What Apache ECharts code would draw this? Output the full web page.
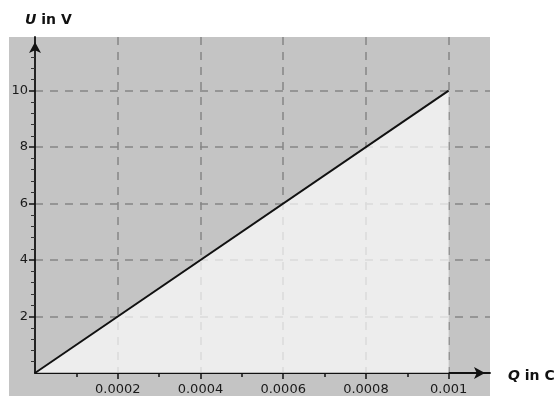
<!DOCTYPE html>
<html>
<head>
<meta charset="utf-8">
<script src="https://cdn.jsdelivr.net/npm/echarts@6/dist/echarts.min.js"></script>
<style>
  html, body { margin: 0; padding: 0; background: #ffffff; }
  #chart { width: 558px; height: 396px; }
</style>
</head>
<body>
<div id="chart"></div>
<script>
// Charge Q (C) and voltage U (V) across a capacitor: U grows linearly with Q
const chargeQ = [0, 0.001];
const voltageU = [0, 10];

// Axis ticks
const xMajorTicks = [0.0002, 0.0004, 0.0006, 0.0008, 0.001];
const xMinorTicks = [0.0001, 0.0003, 0.0005, 0.0007, 0.0009];
const yMajorTicks = [2, 4, 6, 8, 10];
const yMinorTicks = [0.4, 0.8, 1.2, 1.6, 2.4, 2.8, 3.2, 3.6, 4.4, 4.8, 5.2, 5.6,
                     6.4, 6.8, 7.2, 7.6, 8.4, 8.8, 9.2, 9.6, 10.4, 10.8, 11.2];
const xMax = 0.0011;
const yMax = 11.9;

const chart = echarts.init(document.getElementById('chart'), null, { renderer: 'canvas' });

const FONT = 'DejaVu Sans, Liberation Sans, Arial, sans-serif';
const labelFont = { fontFamily: FONT, fontSize: 13, color: '#1a1a1a' };
const axisColor = '#111111';
const gridDash = { color: '#858585', width: 1.5, type: [8, 7] };

function xFormat(v) {
  return xMajorTicks.some(t => Math.abs(t - v) < 1e-9) ? String(+v.toFixed(4)) : '';
}

const titleRich = { i: { fontStyle: 'italic', fontWeight: 'bold', fontSize: 14, fontFamily: FONT } };

chart.setOption({
  animation: false,
  backgroundColor: '#ffffff',
  graphic: [{
    type: 'rect',
    z: -10,
    shape: { x: 9, y: 37, width: 481, height: 359 },
    style: { fill: '#c4c4c4' }
  }, {
    type: 'text',
    left: 25,
    top: 13,
    style: { text: '{i|U} in V', font: 'bold 14px ' + FONT, fill: '#111', rich: titleRich }
  }, {
    type: 'text',
    left: 508,
    top: 369,
    style: { text: '{i|Q} in C', font: 'bold 14px ' + FONT, fill: '#111', rich: titleRich }
  }],
  grid: { left: 35, right: 68, top: 37, bottom: 20, containLabel: false },
  xAxis: [{
    type: 'value',
    position: 'bottom',
    min: 0,
    max: xMax,
    interval: 0.0002,
    axisLine: {
      show: true,
      symbol: ['none', 'arrow'],
      symbolSize: [9, 11],
      symbolOffset: [0, -5],
      lineStyle: { color: axisColor, width: 1.8 }
    },
    axisTick: { show: true, inside: false, length: 6, customValues: xMajorTicks, lineStyle: { color: axisColor, width: 1.5 } },
    axisLabel: { customValues: xMajorTicks, formatter: xFormat, margin: 10, ...labelFont },
    splitLine: { show: true, lineStyle: gridDash }
  }, {
    type: 'value',
    position: 'bottom',
    min: 0,
    max: xMax,
    interval: 0.0001,
    axisLine: { show: false },
    axisTick: { show: true, length: 4, customValues: xMinorTicks, lineStyle: { color: axisColor, width: 1.5 } },
    axisLabel: { show: false },
    splitLine: { show: false }
  }],
  yAxis: [{
    type: 'value',
    position: 'left',
    min: 0,
    max: yMax,
    interval: 2,
    axisLine: {
      show: true,
      symbol: ['none', 'arrow'],
      symbolSize: [9, 11],
      symbolOffset: [0, -5],
      lineStyle: { color: axisColor, width: 1.8 }
    },
    axisTick: { show: true, length: 6, customValues: yMajorTicks, lineStyle: { color: axisColor, width: 1.5 } },
    axisLabel: { customValues: yMajorTicks, margin: 7, ...labelFont },
    splitLine: { show: true, lineStyle: gridDash }
  }, {
    type: 'value',
    position: 'left',
    min: 0,
    max: yMax,
    interval: 0.4,
    axisLine: { show: false },
    axisTick: { show: true, length: 4, customValues: yMinorTicks, lineStyle: { color: '#333', width: 1 } },
    axisLabel: { show: false },
    splitLine: { show: false }
  }],
  series: [{
    type: 'line',
    xAxisIndex: 0,
    yAxisIndex: 0,
    data: chargeQ.map((q, i) => [q, voltageU[i]]),
    showSymbol: false,
    symbol: 'none',
    lineStyle: { color: '#111111', width: 1.9 },
    areaStyle: { color: '#ffffff', opacity: 0.7, origin: 'start' },
    z: 1
  }]
});
</script>
</body>
</html>
